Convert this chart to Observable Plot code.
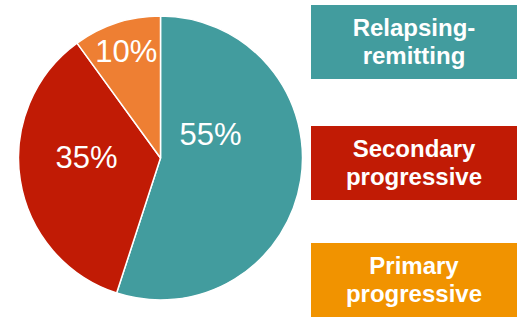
<!DOCTYPE html>
<html>
<head>
<meta charset="utf-8">
<script src="https://cdn.jsdelivr.net/npm/d3@7"></script>
<script src="https://cdn.jsdelivr.net/npm/@observablehq/plot@0.6"></script>
<style>
  html, body { margin: 0; padding: 0; background: #fff; }
  #wrap { position: relative; width: 519px; height: 317px; overflow: hidden; }
  #wrap svg { position: absolute; left: 0; top: 0; }
  .legend-box {
    position: absolute; left: 311px; width: 206px; height: 74px;
    display: flex; align-items: center; justify-content: center; text-align: center;
    color: #fff; font-family: "Liberation Sans", Arial, sans-serif; font-weight: bold;
    font-size: 24px; line-height: 28px;
  }
</style>
</head>
<body>
<div id="wrap"></div>
<script>
// ---- data ----
const categories = ["Relapsing-remitting", "Secondary progressive", "Primary progressive"];
const shares = [55, 35, 10];
const shareLabels = ["55%", "35%", "10%"];
const legendLines = [["Relapsing-", "remitting"], ["Secondary", "progressive"], ["Primary", "progressive"]];
const sliceColors = ["#429C9E", "#C11B05", "#EE7F33"];
const legendColors = ["#429C9E", "#C11B05", "#F19300"];

// ---- layout helpers ----
const arcs = d3.pie().sort(null).value(d => d)(shares);
// label placement relative to slice (radius fraction, angular nudge in degrees)
const labelPlacement = [{r: 0.385, turn: -34}, {r: 0.525, turn: 9}, {r: 0.79, turn: 0}];

const slices = categories.map((c, i) => {
  const a = arcs[i];
  const mid = (a.startAngle + a.endAngle) / 2 + labelPlacement[i].turn * Math.PI / 180;
  const rr = labelPlacement[i].r;
  return {
    category: c, share: shares[i], label: shareLabels[i],
    startAngle: a.startAngle, endAngle: a.endAngle,
    lx: rr * Math.sin(mid), ly: rr * Math.cos(mid)
  };
});

const wedges = Plot.dot(slices, {
  x: () => 0, y: () => 0, fill: "category",
  render(index, scales, values) {
    const cx = scales.x(0), cy = scales.y(0), r = scales.x(1) - cx;
    const arc = d3.arc().innerRadius(0).outerRadius(r);
    const g = d3.create("svg:g").attr("transform", `translate(${cx},${cy})`);
    g.selectAll("path").data(Array.from(index)).join("path")
      .attr("d", i => arc({startAngle: slices[i].startAngle, endAngle: slices[i].endAngle}))
      .attr("fill", i => values.fill[i])
      .attr("stroke", "#fff")
      .attr("stroke-width", 1.5)
      .attr("stroke-linejoin", "round");
    return g.node();
  }
});

const chart = Plot.plot({
  width: 519, height: 317, margin: 0,
  style: {background: "transparent", fontFamily: "Liberation Sans, Arial, sans-serif"},
  x: {domain: [-1, 1], range: [18.5, 302.5], axis: null},
  y: {domain: [-1, 1], range: [300, 16], axis: null},
  color: {domain: categories, range: sliceColors},
  marks: [
    wedges,
    Plot.text(slices, {
      x: "lx", y: "ly", text: "label", fill: "#fff",
      fontSize: 31, fontFamily: "Liberation Sans, Arial, sans-serif"
    })
  ]
});

const wrap = document.getElementById("wrap");
wrap.appendChild(chart);

const tops = [5, 126, 243];
categories.forEach((c, i) => {
  const div = document.createElement("div");
  div.className = "legend-box";
  div.style.top = tops[i] + "px";
  div.style.background = legendColors[i];
  div.innerHTML = legendLines[i].join("<br>");
  wrap.appendChild(div);
});
</script>
</body>
</html>
